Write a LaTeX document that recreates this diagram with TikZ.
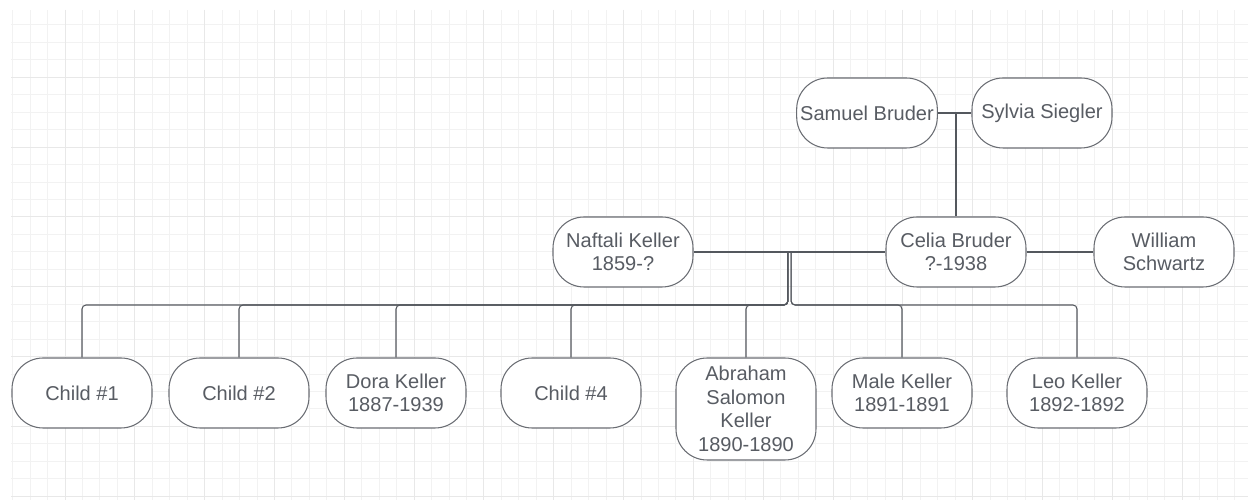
\documentclass[tikz,border=0pt]{standalone}
\usepackage{fontspec}
\setmainfont{Liberation Sans}
\usetikzlibrary{calc}
\definecolor{gridminor}{HTML}{F2F2F2}
\definecolor{gridmajor}{HTML}{E8E8E8}
\definecolor{boxline}{HTML}{6A6D73}
\definecolor{boxtext}{HTML}{585C63}
\definecolor{linkline}{HTML}{54585E}

\begin{document}
\begin{tikzpicture}[x=0.02cm, y=-0.02cm,
	person/.style={draw=boxline, fill=white, line width=0.6pt, rounded corners=0.62cm,
		minimum width=2.8cm, minimum height=1.4cm, inner sep=2pt, align=center,
		text=boxtext, font=\fontsize{11.4}{13.4}\selectfont},
	link/.style={draw=linkline, line width=0.6pt, rounded corners=0.08cm},
	thin grid/.style={draw=gridminor, line width=0.55pt},
	thick grid/.style={draw=gridmajor, line width=0.55pt}]

	\useasboundingbox (0,0) rectangle (1248,502);

	% paper grid
	\foreach \k in {0,...,70}
		\draw[thin grid] ({12.64+\k*17.455},10) -- ({12.64+\k*17.455},500);
	\foreach \k in {0,...,27}
		\draw[thin grid] (11,{24.9+\k*17.455}) -- (1248,{24.9+\k*17.455});
	\foreach \k in {3,7,...,67}
		\draw[thick grid] ({12.64+\k*17.455},10) -- ({12.64+\k*17.455},500);
	\foreach \k in {3,7,...,27}
		\draw[thick grid] (11,{24.9+\k*17.455}) -- (1248,{24.9+\k*17.455});

	\node[person] (samuel) at (867,113) {Samuel Bruder};
	\node[person] (sylvia) at (1042,113) {Sylvia Siegler};
	\node[person] (naftali) at (623,252) {Naftali Keller\\1859-?};
	\node[person] (celia) at (956,252) {Celia Bruder\\?-1938};
	\node[person] (william) at (1164,252) {William\\Schwartz};

	\node[person] (c1) at (82,393) {Child \#1};
	\node[person] (c2) at (239,393) {Child \#2};
	\node[person] (dora) at (396,393) {Dora Keller\\1887-1939};
	\node[person] (c4) at (571,393) {Child \#4};
	\node[person, minimum height=2.04cm] (abraham) at (746,409) {Abraham\\Salomon\\Keller\\1890-1890};
	\node[person] (male) at (902,393) {Male Keller\\1891-1891};
	\node[person] (leo) at (1077,393) {Leo Keller\\1892-1892};

	\draw[link] (samuel) -- (sylvia);
	\draw[link] (celia.north) -- (celia.north |- samuel.east);
	\draw[link] (celia) -- (william);
	\draw[link] (naftali) -- (celia);

	\coordinate (mid) at ($(naftali.east)!0.5!(celia.west)$);
	\coordinate (midL) at ($(mid)+(-1.6,0)$);
	\coordinate (midR) at ($(mid)+(1.6,0)$);
	\coordinate (bus) at (0,305);

	\foreach \c in {c1,c2,dora,c4,abraham}
		\draw[link] (midL) -- (midL |- bus) -| (\c.north);
	\foreach \c in {male,leo}
		\draw[link] (midR) -- (midR |- bus) -| (\c.north);
\end{tikzpicture}
\end{document}
